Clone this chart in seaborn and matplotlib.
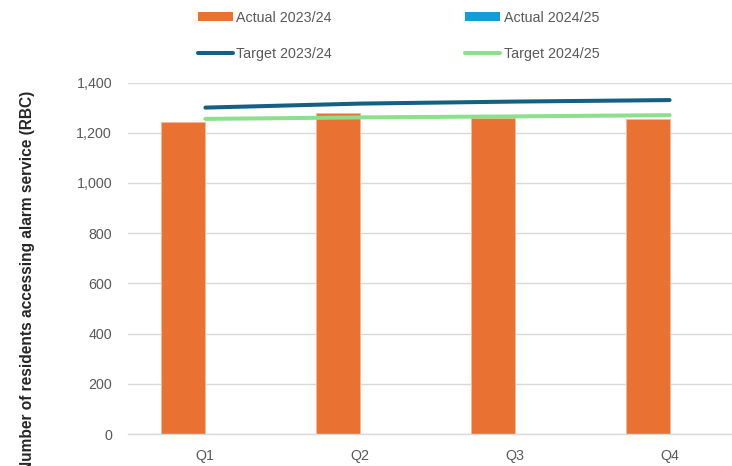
import numpy as np
import pandas as pd
import matplotlib
matplotlib.use("Agg")
import matplotlib.pyplot as plt
from matplotlib.lines import Line2D
from matplotlib.patches import Patch
import seaborn as sns

quarters = ["Q1", "Q2", "Q3", "Q4"]
actual_2324 = [1243, 1277, 1258, 1256]
actual_2425 = [np.nan, np.nan, np.nan, np.nan]
target_2324 = [1300, 1316, 1324, 1330]
target_2425 = [1255, 1261, 1265, 1270]
yticks = [0, 200, 400, 600, 800, 1000, 1200, 1400]

sns.set_theme(style="white")
plt.rcParams["font.family"] = ["Liberation Sans", "DejaVu Sans"]

C_OR = "#E97132"
C_BL = "#0F9ED5"
C_DB = "#156082"
C_GR = "#8CDF8C"
TXT = "#595959"
GRID = "#D9D9D9"

bars = pd.DataFrame({
    "quarter": quarters * 2,
    "value": actual_2324 + actual_2425,
    "series": ["Actual 2023/24"] * 4 + ["Actual 2024/25"] * 4,
})

W, H = 732, 466
fig = plt.figure(figsize=(W / 100, H / 100), dpi=100)
left, right, bottom, top = 128, 747, 434, 82.5
ax = fig.add_axes([left / W, 1 - bottom / H, (right - left) / W, (bottom - top) / H])

sns.barplot(data=bars, x="quarter", y="value", hue="series",
            hue_order=["Actual 2023/24", "Actual 2024/25"],
            palette=[C_OR, C_BL], saturation=1, width=0.57, ax=ax, legend=False,
            edgecolor="#F6B99A", linewidth=0.6, errorbar=None, zorder=2)

lw = 2.9
sns.lineplot(x=quarters, y=target_2324, ax=ax, color=C_DB, linewidth=lw,
             sort=False, zorder=3, solid_capstyle="round")
sns.lineplot(x=quarters, y=target_2425, ax=ax, color=C_GR, linewidth=lw,
             sort=False, zorder=3, solid_capstyle="round")

ax.set_xlim(-0.5, 3.5)
ax.set_ylim(0, 1400)
ax.set_yticks(yticks)
ax.set_yticklabels([f"{v:,}" for v in yticks])
ax.yaxis.grid(True, color=GRID, linewidth=1.0, zorder=0)
ax.set_axisbelow(True)
for s in ["top", "right", "left"]:
    ax.spines[s].set_visible(False)
ax.spines["bottom"].set_color(GRID)
ax.spines["bottom"].set_linewidth(1.0)
ax.tick_params(axis="both", length=0, colors=TXT, labelsize=10.3)
ax.tick_params(axis="y", pad=11.5)
ax.tick_params(axis="x", pad=11)
ax.set_xlabel("")
ax.set_ylabel("Number of residents accessing alarm service (RBC)",
              fontsize=11.2, fontweight="bold", color="#262626")
ax.yaxis.set_label_coords((35 - left) / (right - left), 0.434)

handles = [
    Patch(facecolor=C_OR, edgecolor="none"),
    Line2D([0], [0], color=C_DB, linewidth=lw, solid_capstyle="round"),
    Patch(facecolor=C_BL, edgecolor="none"),
    Line2D([0], [0], color=C_GR, linewidth=lw, solid_capstyle="round"),
]
labels = ["Actual 2023/24", "Target 2023/24", "Actual 2024/25", "Target 2024/25"]
leg = fig.legend(handles, labels, ncol=2, loc="upper left",
                 bbox_to_anchor=(195 / W, 1 - 8 / H), frameon=False,
                 fontsize=10.3, labelcolor=TXT, handlelength=2.45,
                 handleheight=0.6, handletextpad=0.25, columnspacing=9.3,
                 labelspacing=1.53, borderpad=0.2, borderaxespad=0)

fig.savefig("out.png", dpi=100)
